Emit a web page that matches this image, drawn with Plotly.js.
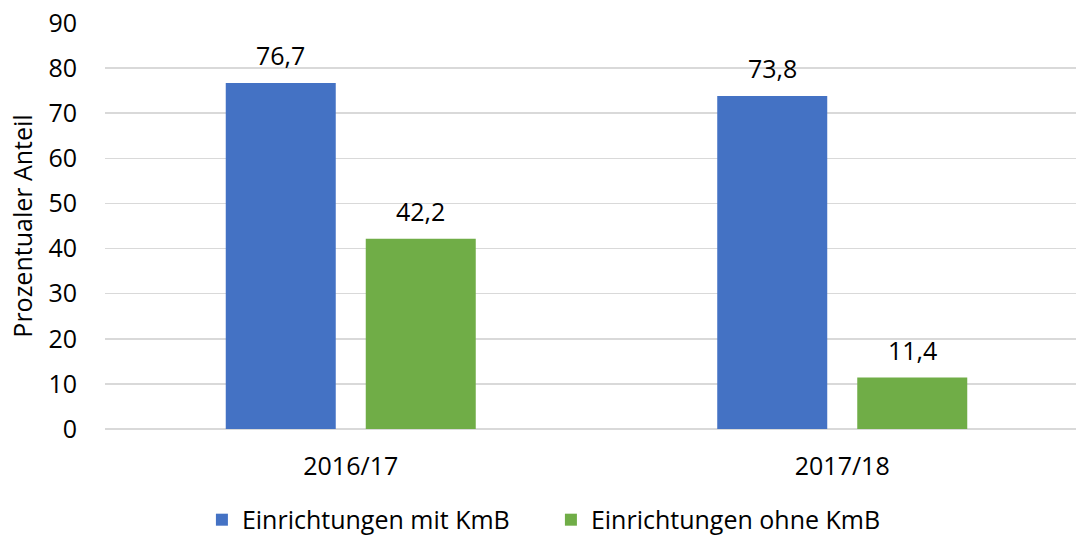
<!DOCTYPE html>
<html>
<head>
<meta charset="utf-8">
<script src="https://cdn.plot.ly/plotly-3.0.1.min.js"></script>
<style>html,body{margin:0;padding:0;background:#fff;}#chart{width:1076px;height:539px;}</style>
</head>
<body>
<div id="chart"></div>
<script>
const categories = ["2016/17", "2017/18"];
const seriesNames = ["Einrichtungen mit KmB", "Einrichtungen ohne KmB"];
const mitKmB = [76.7, 73.8];
const ohneKmB = [42.2, 11.4];
const yTicks = [0, 10, 20, 30, 40, 50, 60, 70, 80, 90];
const yTitle = "Prozentualer Anteil";

const colors = ["#4472C4", "#70AD47"];
const FONT = "Open Sans, sans-serif";
const FS = 25;
const fmt = v => v.toFixed(1).replace(".", ",");

const traces = [mitKmB, ohneKmB].map((vals, i) => ({
  type: "bar",
  name: seriesNames[i],
  x: categories,
  y: vals,
  marker: {color: colors[i]},
  hoverinfo: "skip"
}));

// labels above bars, shifted to each trace's slot
const slotShift = 70;
const annotations = [];
[mitKmB, ohneKmB].forEach((vals, i) => {
  vals.forEach((v, j) => {
    annotations.push({
      x: categories[j], y: v, xref: "x", yref: "y",
      text: fmt(v), showarrow: false,
      xshift: (i === 0 ? -1 : 1) * slotShift,
      yanchor: "bottom", yshift: 9,
      font: {family: FONT, size: FS, color: "#000"}
    });
  });
});

const layout = {
  width: 1076, height: 539,
  margin: {l: 105, r: 0, t: 23, b: 110, pad: 0, autoexpand: false},
  paper_bgcolor: "#fff", plot_bgcolor: "#fff",
  separators: ", ",
  font: {family: FONT, size: FS, color: "#000"},
  barmode: "group",
  bargap: 0.4303,
  bargroupgap: 0.2143,
  xaxis: {
    type: "category",
    range: [-0.5, 1.4756],
    showgrid: false, zeroline: false, showline: false,
    ticks: "", ticklabelstandoff: 20,
    tickfont: {family: FONT, size: FS, color: "#000"},
    fixedrange: true
  },
  yaxis: {
    range: [0, 90],
    tickvals: yTicks,
    showgrid: true, gridcolor: "#d9d9d9", gridwidth: 1.5,
    zeroline: true, zerolinecolor: "#d9d9d9", zerolinewidth: 1.5,
    showline: false, ticks: "", ticklabelstandoff: 27,
    tickfont: {family: FONT, size: FS, color: "#000"},
    title: {text: yTitle, font: {family: FONT, size: FS, color: "#000"}, standoff: 8},
    fixedrange: true
  },
  legend: {
    orientation: "h",
    xref: "container", yref: "paper",
    x: 0.512, xanchor: "center",
    y: -0.224, yanchor: "middle",
    font: {family: FONT, size: FS, color: "#000"},
    itemwidth: 30,
    entrywidth: 304, entrywidthmode: "pixels",
    traceorder: "normal"
  },
  annotations: annotations,
  showlegend: true
};

Plotly.newPlot("chart", traces, layout, {displayModeBar: false, staticPlot: true});
</script>
</body>
</html>
